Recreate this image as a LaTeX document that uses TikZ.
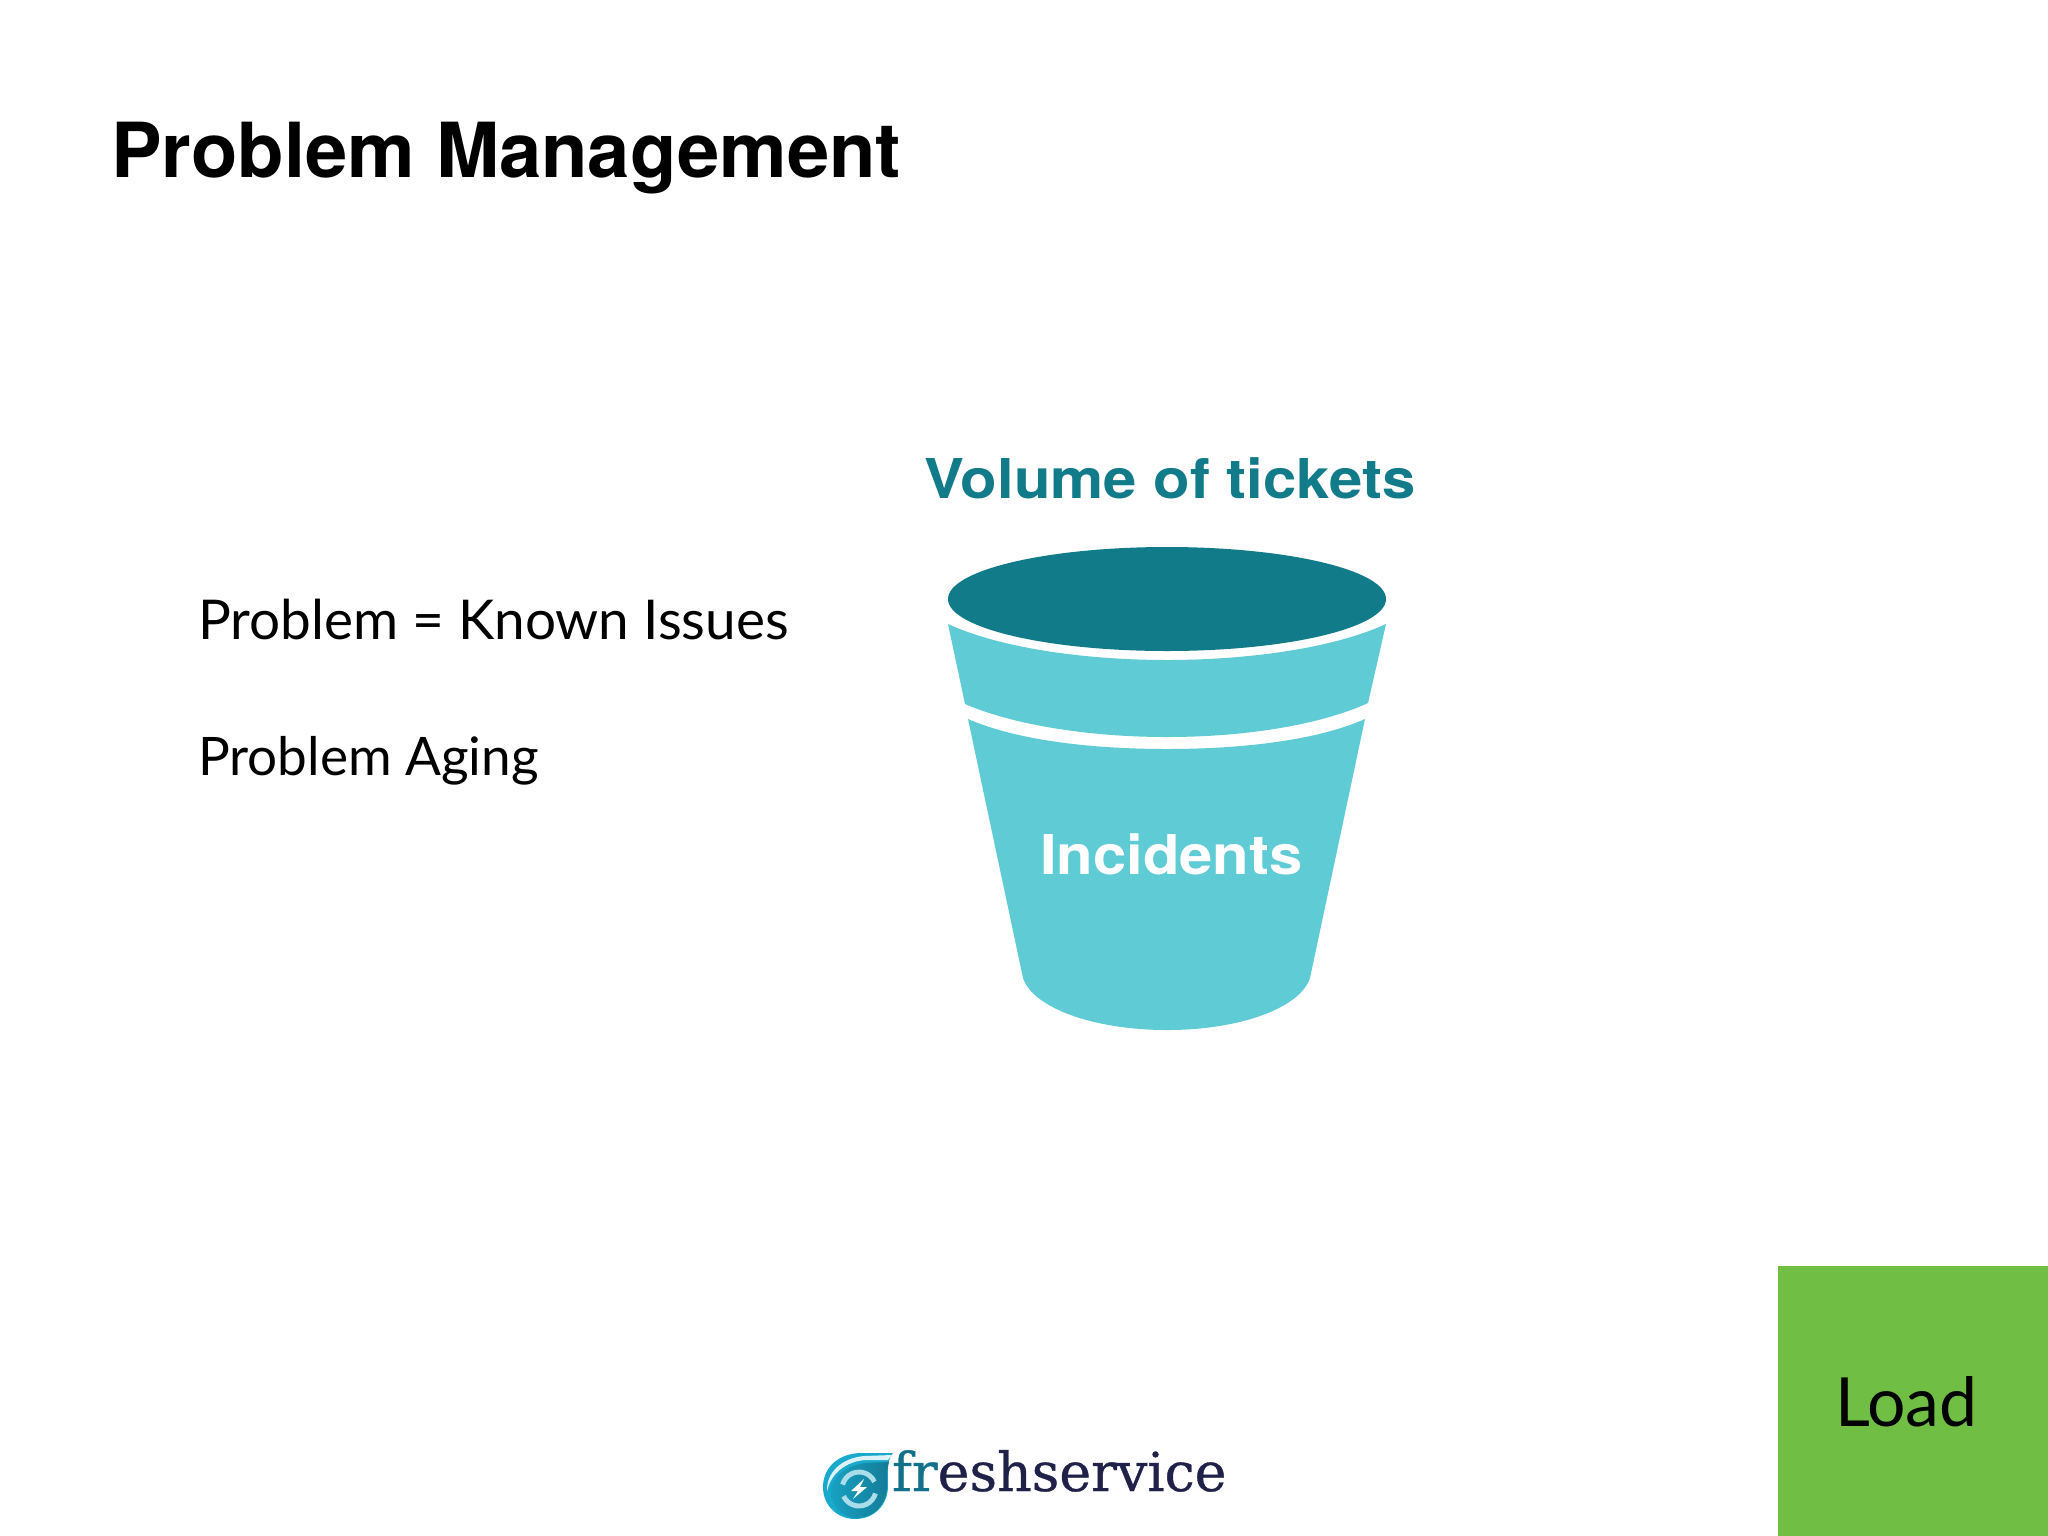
\documentclass[tikz,border=0pt]{standalone}
\usepackage{fontspec}
\setmainfont{TeX Gyre Heros}
\newfontfamily\gillish{Lato}
\newfontfamily\slabish[FakeBold=0.6]{DejaVu Serif}
\newfontfamily\headfont[FakeStretch=1.09]{TeX Gyre Heros}
\usetikzlibrary{shadings}
\definecolor{tealdark}{HTML}{127B89}
\definecolor{teallight}{HTML}{5FCBD4}
\definecolor{loadgreen}{HTML}{70BF44}
\definecolor{logonavy}{HTML}{1F2148}
\definecolor{logoteal}{HTML}{13708A}
\definecolor{logoblue}{HTML}{18A9CC}
\definecolor{logopale}{HTML}{A9DDEA}
\tikzset{
  x=0.01cm,y=-0.01cm,
  lbl/.style={inner sep=0pt,outer sep=0pt,anchor=base west},
  titletext/.style={lbl,font=\fontsize{21.6}{26}\selectfont\bfseries,text=black},
  bodytext/.style={lbl,font=\gillish\fontsize{15.6}{18}\selectfont,text=black},
  agingtext/.style={lbl,font=\gillish\fontsize{15.1}{18}\selectfont,text=black},
  headtext/.style={lbl,font=\headfont\fontsize{15.6}{18}\selectfont\bfseries,text=tealdark},
  insidetext/.style={lbl,font=\headfont\fontsize{15.6}{18}\selectfont\bfseries,text=white},
  loadtext/.style={lbl,font=\gillish\fontsize{19.3}{22}\selectfont,text=black},
  logotext/.style={lbl,font=\slabish\fontsize{15.3}{16}\selectfont,text=logonavy},
  logoarc/.style={draw=logopale,line width=1.4pt},
}
\begin{document}
\begin{tikzpicture}
\useasboundingbox (0,0) rectangle (2048,1536);
\fill[white] (0,0) rectangle (2048,1536);
\node[titletext] (title) at (111,177) {Problem Management};
\node[bodytext] (known) at (198,639) {Problem = Known Issues};
\node[agingtext] (aging) at (198,775) {Problem Aging};
\node[headtext] (volume) at (924,498) {Volume of tickets};
% bucket
\fill[teallight] (948,624) .. controls (1000,648) and (1085,660) .. (1167,660)
  .. controls (1249,660) and (1334,648) .. (1386,624)
  -- (1368,703) .. controls (1320,725) and (1245,737) .. (1167,737)
  .. controls (1089,737) and (1014,725) .. (965,704) -- cycle;
\fill[teallight] (968,719) .. controls (1016,740) and (1090,749) .. (1167,749)
  .. controls (1244,749) and (1318,740) .. (1365,719)
  -- (1310,978) .. controls (1300,1008) and (1240,1030) .. (1167,1030)
  .. controls (1094,1030) and (1033,1008) .. (1023,978) -- cycle;
\fill[tealdark] (1167,599) ellipse [x radius=219,y radius=52];
\node[insidetext] (incidents) at (1040,874) {Incidents};
% load box
\fill[loadgreen] (1778,1266) rectangle (2048,1536);
\node[loadtext] (load) at (1835,1426) {Load};
% logo: outer drop
\fill[logoblue]
  (893,1453) -- (862,1453) .. controls (838,1453) and (823,1468) .. (823,1487)
  .. controls (823,1506) and (838,1519) .. (855,1519)
  .. controls (875,1519) and (888,1504) .. (888,1486)
  .. controls (888,1472) and (886,1462) .. cycle;
% logo: pale crescent
\fill[white!85!logoblue] (892,1455) -- (864,1456) .. controls (842,1458) and (826,1472) .. (827,1492)
  .. controls (830,1474) and (846,1461) .. (866,1460) -- (888,1460) -- cycle;
% logo: inner drop
\shade[left color=logoblue!85!logoteal,right color=logoteal!80!logoblue]
  (889,1462) -- (866,1463) .. controls (846,1465) and (831,1478) .. (831,1492)
  .. controls (832,1507) and (843,1518) .. (856,1518)
  .. controls (875,1518) and (887,1503) .. (887,1486)
  .. controls (887,1476) and (887,1468) .. cycle;
\path[logoarc] (859,1489) ++(-25:17) arc [start angle=-25,end angle=-165,radius=17];
\path[logoarc] (859,1489) ++(-205:17) arc [start angle=-205,end angle=-345,radius=17];
\fill[white] (864,1479) -- (851,1491) -- (858,1491) -- (853,1499) -- (867,1487) -- (860,1487) -- cycle;
\node[logotext] (logo) at (892,1491) {\textcolor{logoteal}{fr}eshservice};
\end{tikzpicture}
\end{document}
